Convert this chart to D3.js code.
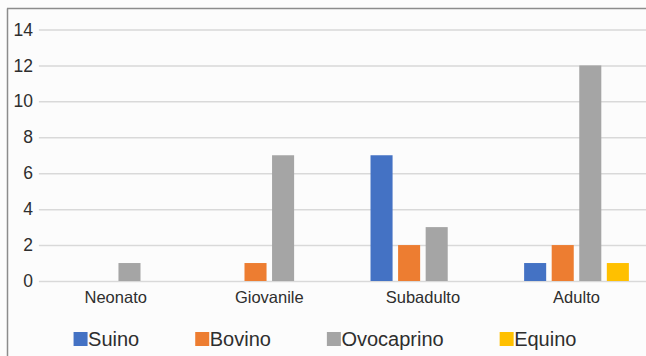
<!DOCTYPE html>
<html>
<head>
<meta charset="utf-8">
<script src="https://cdn.jsdelivr.net/npm/d3@7"></script>
<style>
  html, body { margin: 0; padding: 0; background: #fcfcfc; }
  svg { display: block; }
  text { font-family: "Liberation Sans", Arial, sans-serif; fill: #2e2e2e; }
</style>
</head>
<body>
<svg id="chart" width="646" height="356"></svg>
<script>
// Age classes and species counts
const categories = ["Neonato", "Giovanile", "Subadulto", "Adulto"];
const seriesNames = ["Suino", "Bovino", "Ovocaprino", "Equino"];
const suino      = [0, 0, 7, 1];
const bovino     = [0, 1, 2, 2];
const ovocaprino = [1, 7, 3, 12];
const equino     = [0, 0, 0, 1];
const yTicks = [0, 2, 4, 6, 8, 10, 12, 14];
const colors = ["#4472c4", "#ed7d31", "#a5a5a5", "#ffc000"];

const seriesValues = [suino, bovino, ovocaprino, equino];
const rows = categories.map((c, i) => ({
  category: c,
  values: seriesNames.map((s, j) => ({ series: s, value: seriesValues[j][i] }))
}));

const svg = d3.select("#chart");
const W = 646, H = 356;

// frame lines (left and top edges of the chart box)
svg.append("line").attr("x1", 7.5).attr("x2", 7.5).attr("y1", 8.5).attr("y2", H)
  .attr("stroke", "#8c8c8c").attr("stroke-width", 1.5);
svg.append("line").attr("x1", 7).attr("x2", W).attr("y1", 8.5).attr("y2", 8.5)
  .attr("stroke", "#8c8c8c").attr("stroke-width", 1.5);

const plot = { left: 38.9, right: 653.3, top: 29.5, bottom: 281 };

const x0 = d3.scaleBand().domain(categories)
  .range([plot.left, plot.right]).paddingInner(0.318).paddingOuter(0.159);
const x1 = d3.scaleBand().domain(seriesNames)
  .range([0, x0.bandwidth()]).paddingInner(0.2).paddingOuter(0);
const y = d3.scaleLinear().domain([0, 14]).range([plot.bottom, plot.top]);
const color = d3.scaleOrdinal().domain(seriesNames).range(colors);

// horizontal gridlines + y labels
const yAxis = d3.axisLeft(y).tickValues(yTicks)
  .tickSize(-(plot.right - plot.left)).tickPadding(6).tickFormat(d3.format("d"));
const gy = svg.append("g").attr("transform", `translate(${plot.left},0)`).call(yAxis);
gy.select(".domain").remove();
gy.selectAll(".tick line").attr("stroke", "#d9d9d9").attr("stroke-width", 1.5);
gy.selectAll(".tick text").attr("font-size", 17.5).attr("fill", "#2e2e2e")
  .attr("font-family", "Liberation Sans, Arial, sans-serif");

// bars
const groups = svg.append("g").selectAll("g").data(rows).join("g")
  .attr("transform", d => `translate(${x0(d.category)},0)`);
groups.selectAll("rect").data(d => d.values.filter(v => v.value > 0)).join("rect")
  .attr("x", d => x1(d.series))
  .attr("width", x1.bandwidth())
  .attr("y", d => y(d.value))
  .attr("height", d => y(0) - y(d.value))
  .attr("fill", d => color(d.series));

// category labels
const xAxis = d3.axisBottom(x0).tickSize(0).tickPadding(10);
const gx = svg.append("g").attr("transform", `translate(0,${plot.bottom})`).call(xAxis);
gx.select(".domain").remove();
gx.selectAll(".tick text").attr("font-size", 16.5).attr("fill", "#2e2e2e")
  .attr("font-family", "Liberation Sans, Arial, sans-serif");

// legend
const legend = svg.append("g");
const items = legend.selectAll("g").data(seriesNames).join("g");
items.append("rect").attr("width", 14).attr("height", 14).attr("y", -14)
  .attr("fill", d => color(d));
items.append("text").attr("x", 14.5).attr("font-size", 20).text(d => d);
let cursor = 0;
const gap = 56;
items.each(function () {
  const g = d3.select(this);
  g.attr("transform", `translate(${cursor},0)`);
  cursor += 14.5 + g.select("text").node().getComputedTextLength() + gap;
});
const total = cursor - gap;
legend.attr("transform", `translate(${(W - total) / 2 + 2},346)`);
</script>
</body>
</html>
